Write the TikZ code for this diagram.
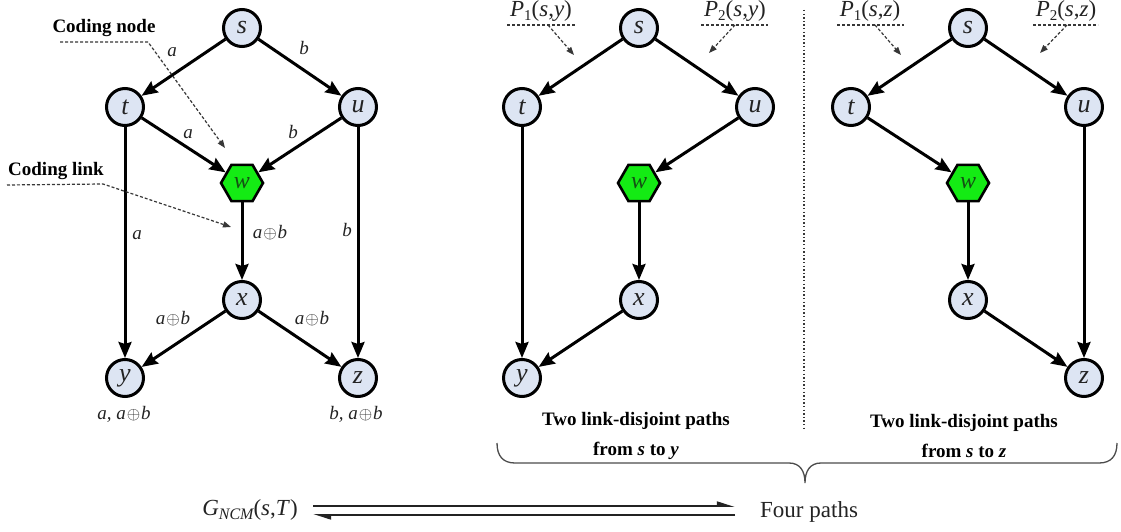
\documentclass[tikz,border=0pt]{standalone}
\usepackage{fontspec}
\setmainfont{Liberation Serif}
\usetikzlibrary{arrows.meta,shapes.geometric}

\definecolor{vfill}{RGB}{221,229,243}
\definecolor{codegreen}{RGB}{20,235,20}
\definecolor{wtext}{RGB}{20,80,20}
\definecolor{ptrgray}{RGB}{55,55,55}
\definecolor{inkgray}{RGB}{35,35,35}

% xor sign between italic operands
\newcommand\xsum{\kern1.2pt{\upshape$\oplus$}\kern0.8pt}
% lowered subscript in text
\newcommand\lowsub[2][15]{\lower4pt\hbox{\fontsize{#1}{#1}\selectfont #2}}

\begin{document}
\begin{tikzpicture}[x=1pt,y=-1pt,
  vtx/.style={circle, draw=black, line width=3pt, fill=vfill, minimum size=37pt,
    inner sep=0pt, text=inkgray, font=\fontsize{26}{26}\selectfont\itshape},
  coder/.style={regular polygon, regular polygon sides=6, draw=black, line width=2.6pt,
    fill=codegreen, minimum size=42pt, inner sep=0pt, text=wtext,
    font=\fontsize{24}{24}\selectfont\itshape},
  link/.style={line width=3pt, draw=black, -{Stealth[length=16pt,width=13pt,inset=2pt]}},
  lbl/.style={font=\fontsize{19}{19}\selectfont\itshape, text=inkgray, inner sep=0pt},
  note/.style={font=\fontsize{19}{19}\selectfont\bfseries, text=black, inner sep=0pt},
  pathlbl/.style={font=\fontsize{23}{23}\selectfont, text=inkgray, inner sep=0pt, anchor=base},
  pointer/.style={line width=1.2pt, draw=ptrgray, dash pattern=on 3pt off 2pt,
    -{Triangle[length=8pt,width=6pt]}},
  underline/.style={line width=1.2pt, draw=ptrgray, dash pattern=on 3pt off 2pt},
  caption/.style={font=\fontsize{19}{30}\selectfont\bfseries, align=center, inner sep=0pt},
  harp/.style={line width=1.9pt, draw=inkgray, -{Triangle[harpoon,length=15pt,width=9pt]}},
  bigtext/.style={font=\fontsize{23}{23}\selectfont, text=inkgray, inner sep=0pt, anchor=base},
]
\fill[white] (0,0) rectangle (1121,532);
\useasboundingbox (0,0) rectangle (1121,532);

% ---------------- network coding graph ----------------
\node[vtx] (s) at (242,28) {s};
\node[vtx] (t) at (125,107) {t};
\node[vtx] (u) at (358,107) {u};
\node[coder] (w) at (242,183) {w};
\node[vtx] (x) at (242,300) {x};
\node[vtx] (y) at (125,378) {y};
\node[vtx] (z) at (358,378) {z};

\draw[link] (s) -- (t);
\draw[link] (s) -- (u);
\draw[link] (t) -- (w);
\draw[link] (u) -- (w);
\draw[link] (t) -- (y);
\draw[link] (u) -- (z);
\draw[link] (w) -- (x);
\draw[link] (x) -- (y);
\draw[link] (x) -- (z);

\node[lbl] (lst) at (172,52) {a};
\node[lbl] (lsu) at (304,48) {b};
\node[lbl] (ltw) at (188,134) {a};
\node[lbl] (luw) at (293,132) {b};
\node[lbl] (lty) at (137,235) {a};
\node[lbl] (luz) at (347,230) {b};
\node[lbl] (lwx) at (270,233) {a\xsum b};
\node[lbl] (lxy) at (173,319) {a\xsum b};
\node[lbl] (lxz) at (312,319) {a\xsum b};
\node[lbl] (ry) at (124,414) {a, a\xsum b};
\node[lbl] (rz) at (356,414) {b, a\xsum b};

\node[note] (cn) at (104,28) {Coding node};
\coordinate (cn1) at (60,42);
\coordinate (cn2) at (148,42);
\coordinate (cn3) at (225,148);
\draw[pointer] (cn1) -- (cn2) -- (cn3);

\node[note] (cl) at (56,171) {Coding link};
\coordinate (cl1) at (7,185);
\coordinate (cl2) at (103,184);
\coordinate (cl3) at (231,227);
\draw[pointer] (cl1) -- (cl2) -- (cl3);

% ---------------- paths from s to y ----------------
\node[vtx] (ms) at (639,28) {s};
\node[vtx] (mt) at (522,107) {t};
\node[vtx] (mu) at (755,107) {u};
\node[coder] (mw) at (639,183) {w};
\node[vtx] (mx) at (639,300) {x};
\node[vtx] (my) at (522,378) {y};

\draw[link] (ms) -- (mt);
\draw[link] (ms) -- (mu);
\draw[link] (mu) -- (mw);
\draw[link] (mw) -- (mx);
\draw[link] (mx) -- (my);
\draw[link] (mt) -- (my);

\node[pathlbl] (p1y) at (541,17) {\textit{P}\lowsub{1}(\textit{s},\textit{y})};
\coordinate (p1ya) at (507,25);
\coordinate (p1yb) at (575,25);
\coordinate (p1yc) at (548,25);
\coordinate (p1yd) at (574,55);
\draw[underline] (p1ya) -- (p1yb);
\draw[pointer] (p1yc) -- (p1yd);

\node[pathlbl] (p2y) at (735,17) {\textit{P}\lowsub{2}(\textit{s},\textit{y})};
\coordinate (p2ya) at (701,25);
\coordinate (p2yb) at (768,25);
\coordinate (p2yc) at (735,25);
\coordinate (p2yd) at (709,53);
\draw[underline] (p2ya) -- (p2yb);
\draw[pointer] (p2yc) -- (p2yd);

\node[caption] (cy) at (636,436) {Two link-disjoint paths\\from \textit{s} to \textit{y}};

% ---------------- paths from s to z ----------------
\node[vtx] (rs) at (968,28) {s};
\node[vtx] (rt) at (851,107) {t};
\node[vtx] (ru) at (1084,107) {u};
\node[coder] (rw) at (968,183) {w};
\node[vtx] (rx) at (968,300) {x};
\node[vtx] (rzz) at (1084,378) {z};

\draw[link] (rs) -- (rt);
\draw[link] (rs) -- (ru);
\draw[link] (rt) -- (rw);
\draw[link] (rw) -- (rx);
\draw[link] (rx) -- (rzz);
\draw[link] (ru) -- (rzz);

\node[pathlbl] (p1z) at (870,17) {\textit{P}\lowsub{1}(\textit{s},\textit{z})};
\coordinate (p1za) at (837,25);
\coordinate (p1zb) at (904,25);
\coordinate (p1zc) at (875,25);
\coordinate (p1zd) at (901,55);
\draw[underline] (p1za) -- (p1zb);
\draw[pointer] (p1zc) -- (p1zd);

\node[pathlbl] (p2z) at (1066,17) {\textit{P}\lowsub{2}(\textit{s},\textit{z})};
\coordinate (p2za) at (1033,25);
\coordinate (p2zb) at (1098,25);
\coordinate (p2zc) at (1067,25);
\coordinate (p2zd) at (1040,53);
\draw[underline] (p2za) -- (p2zb);
\draw[pointer] (p2zc) -- (p2zd);

\node[caption] (cz) at (964,436) {Two link-disjoint paths\\from \textit{s} to \textit{z}};

% separator between the two path panels
\draw[line width=1.4pt, draw=ptrgray, dash pattern=on 1.4pt off 2.2pt] (804,10) -- (804,431);

% brace gathering both panels
\draw[line width=1.3pt, draw=black!70]
  (497,443) .. controls (497,456) and (503,463) .. (515,463)
  -- (789,463) .. controls (800,463) and (805,471) .. (805,483)
  .. controls (805,471) and (810,463) .. (821,463)
  -- (1099,463) .. controls (1111,463) and (1117,456) .. (1117,443);

% ---------------- equivalence ----------------
\node[bigtext] (gncm) at (250,515) {\textit{G}\lowsub[16]{\itshape NCM}(\textit{s},\textit{T})};
\node[bigtext, anchor=base west] (four) at (760,517) {Four paths};
\coordinate (hlT) at (313,506);
\coordinate (hrT) at (735,506);
\coordinate (hlB) at (313,515);
\coordinate (hrB) at (735,515);
\draw[harp] (hlT) -- (hrT);
\draw[harp] (hrB) -- (hlB);
\end{tikzpicture}
\end{document}
